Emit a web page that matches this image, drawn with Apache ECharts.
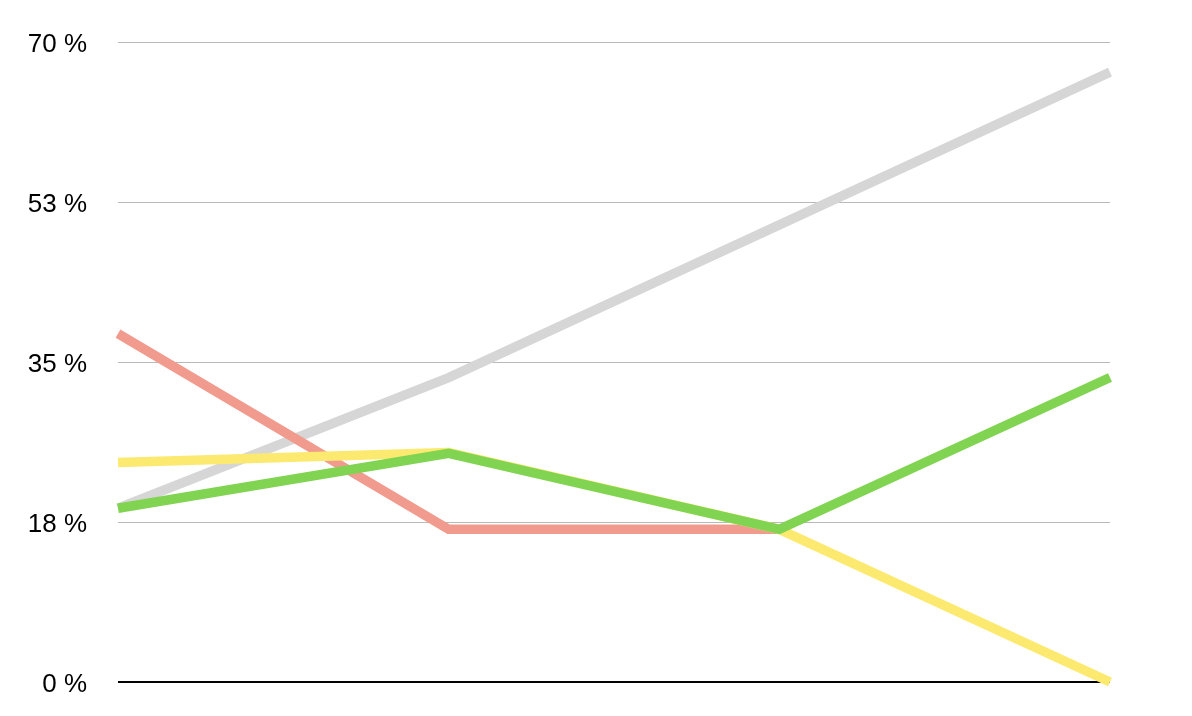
<!DOCTYPE html>
<html>
<head>
<meta charset="utf-8">
<script src="https://cdn.jsdelivr.net/npm/echarts@6/dist/echarts.min.js"></script>
<style>
html,body{margin:0;padding:0;background:#fff;}
#chart{width:1192px;height:716px;}
</style>
</head>
<body>
<div id="chart"></div>
<script>
var categories = ['1', '2', '3', '4'];
var grayValues = [19.0, 33.3, 50.0, 66.7];
var redValues = [38.1, 16.7, 16.7, null];
var yellowValues = [24.0, 25.1, 16.7, 0];
var greenValues = [19.0, 25.0, 16.7, 33.3];
var yTickLabels = {0: '0 %', 17.5: '18 %', 35: '35 %', 52.5: '53 %', 70: '70 %'};

var chart = echarts.init(document.getElementById('chart'), null, {renderer: 'canvas'});
function mk(name, data, color, z) {
  return {
    name: name, type: 'line', data: data, showSymbol: false, symbol: 'none',
    lineStyle: {color: color, width: 9.5, cap: 'butt', join: 'miter'},
    z: z, connectNulls: false, silent: true
  };
}
chart.setOption({
  animation: false,
  grid: {left: 118, right: 82, top: 42, bottom: 34, containLabel: false},
  xAxis: {
    type: 'category', data: categories, boundaryGap: false,
    axisLine: {show: false}, axisTick: {show: false}, axisLabel: {show: false},
    splitLine: {show: false}
  },
  yAxis: {
    type: 'value', min: 0, max: 70, interval: 17.5,
    axisLine: {show: false}, axisTick: {show: false},
    axisLabel: {
      margin: 31, color: '#000', fontFamily: 'Liberation Sans, Arial, sans-serif', fontSize: 26,
      rich: {
        t: {color: '#000', fontFamily: 'Liberation Sans, Arial, sans-serif', fontSize: 26, padding: [6, 0, 0, 0]}
      },
      formatter: function (v) { return yTickLabels[v] !== undefined ? '{t|' + yTickLabels[v] + '}' : ''; }
    },
    splitLine: {show: true, lineStyle: {color: '#b9b9b9', width: 1}}
  },
  series: [
    mk('gray', grayValues, '#d6d6d6', 2),
    mk('red', redValues, '#f19b8e', 3),
    mk('yellow', yellowValues, '#fcea70', 4),
    mk('green', greenValues, '#80d452', 5),
    {
      type: 'line', data: [0, 0, 0, 0], showSymbol: false, symbol: 'none', silent: true,
      lineStyle: {color: '#000', width: 2}, z: 1
    }
  ]
});
</script>
</body>
</html>
